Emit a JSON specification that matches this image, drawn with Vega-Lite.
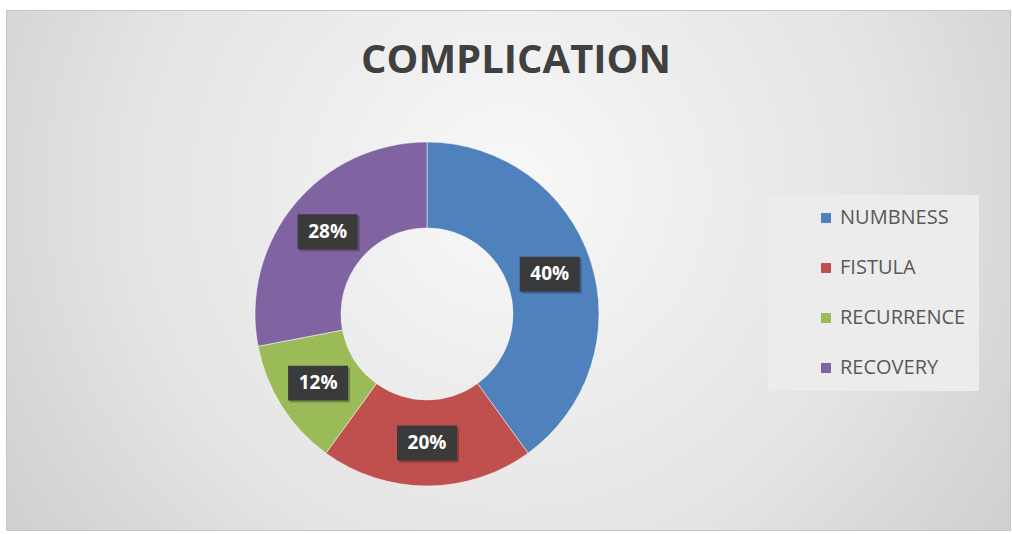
{
  "$schema": "https://vega.github.io/schema/vega-lite/v6.json",
  "width": 1004,
  "height": 520,
  "autosize": {"type": "none"},
  "padding": {"left": 6, "top": 10, "right": 2, "bottom": 4},
  "background": "#ffffff",
  "view": {
    "stroke": "#c6c6c6",
    "strokeWidth": 1,
    "fill": {
      "gradient": "radial",
      "x1": 0.5, "y1": 0.42, "r1": 0,
      "x2": 0.5, "y2": 0.42, "r2": 0.75,
      "stops": [
        {"offset": 0, "color": "#f8f8f8"},
        {"offset": 0.5, "color": "#e4e4e4"},
        {"offset": 1, "color": "#c2c2c2"}
      ]
    }
  },
  "title": {
    "text": "COMPLICATION",
    "font": "Open Sans",
    "fontSize": 40,
    "fontWeight": "bold",
    "color": "#404040",
    "anchor": "middle",
    "offset": -71,
    "dx": 8
  },
  "data": {
    "values": [
      {"category": "NUMBNESS", "value": 40, "order": 1},
      {"category": "FISTULA", "value": 20, "order": 2},
      {"category": "RECURRENCE", "value": 12, "order": 3},
      {"category": "RECOVERY", "value": 28, "order": 4}
    ]
  },
  "transform": [
    {"joinaggregate": [{"op": "sum", "field": "value", "as": "total"}]},
    {"window": [{"op": "sum", "field": "value", "as": "cum"}], "sort": [{"field": "order"}], "frame": [null, 0]},
    {"calculate": "2*PI*(datum.cum - datum.value/2)/datum.total", "as": "ang"},
    {"calculate": "129*sin(datum.ang)", "as": "lx"},
    {"calculate": "129*cos(datum.ang)", "as": "ly"},
    {"calculate": "datum.lx + 2", "as": "sx"},
    {"calculate": "datum.ly - 2", "as": "sy"},
    {"calculate": "datum.value + '%'", "as": "label"}
  ],
  "layer": [
    {
      "mark": {"type": "arc", "innerRadius": 86, "outerRadius": 172, "stroke": "#ffffff", "strokeWidth": 0.5},
      "encoding": {
        "x": {"datum": 0, "type": "quantitative", "scale": {"domain": [-421, 583], "nice": false, "zero": false}, "axis": null},
        "y": {"datum": 0, "type": "quantitative", "scale": {"domain": [-216, 304], "nice": false, "zero": false}, "axis": null},
        "theta": {"field": "value", "type": "quantitative", "stack": true},
        "order": {"field": "order", "type": "quantitative"},
        "color": {
          "field": "category",
          "type": "nominal",
          "scale": {
            "domain": ["NUMBNESS", "FISTULA", "RECURRENCE", "RECOVERY"],
            "range": ["#4f81bd", "#c0504d", "#9bbb59", "#8064a2"]
          },
          "legend": {
            "orient": "none",
            "legendX": 762,
            "legendY": 185,
            "title": null,
            "fillColor": "#ececec",
            "padding": 13,
            "symbolOffset": 35,
            "symbolType": "square",
            "symbolSize": 100,
            "symbolStrokeWidth": 0,
            "labelFont": "Open Sans",
            "labelFontSize": 20,
            "labelColor": "#595959",
            "rowPadding": 30,
            "labelOffset": 4
          }
        }
      }
    },
    {
      "mark": {"type": "point", "shape": "M-1,-0.58L1,-0.58L1,0.58L-1,0.58Z", "size": 3600, "filled": true, "color": "#000000", "opacity": 0.25},
      "encoding": {
        "x": {"field": "sx", "type": "quantitative"},
        "y": {"field": "sy", "type": "quantitative"}
      }
    },
    {
      "mark": {"type": "point", "shape": "M-1,-0.58L1,-0.58L1,0.58L-1,0.58Z", "size": 3600, "filled": true, "color": "#3a3a3a", "opacity": 1},
      "encoding": {
        "x": {"field": "lx", "type": "quantitative"},
        "y": {"field": "ly", "type": "quantitative"}
      }
    },
    {
      "mark": {"type": "text", "font": "Open Sans", "fontSize": 19, "fontWeight": "bold", "color": "#ffffff", "align": "center", "baseline": "middle"},
      "encoding": {
        "x": {"field": "lx", "type": "quantitative"},
        "y": {"field": "ly", "type": "quantitative"},
        "text": {"field": "label", "type": "nominal"}
      }
    }
  ]
}
